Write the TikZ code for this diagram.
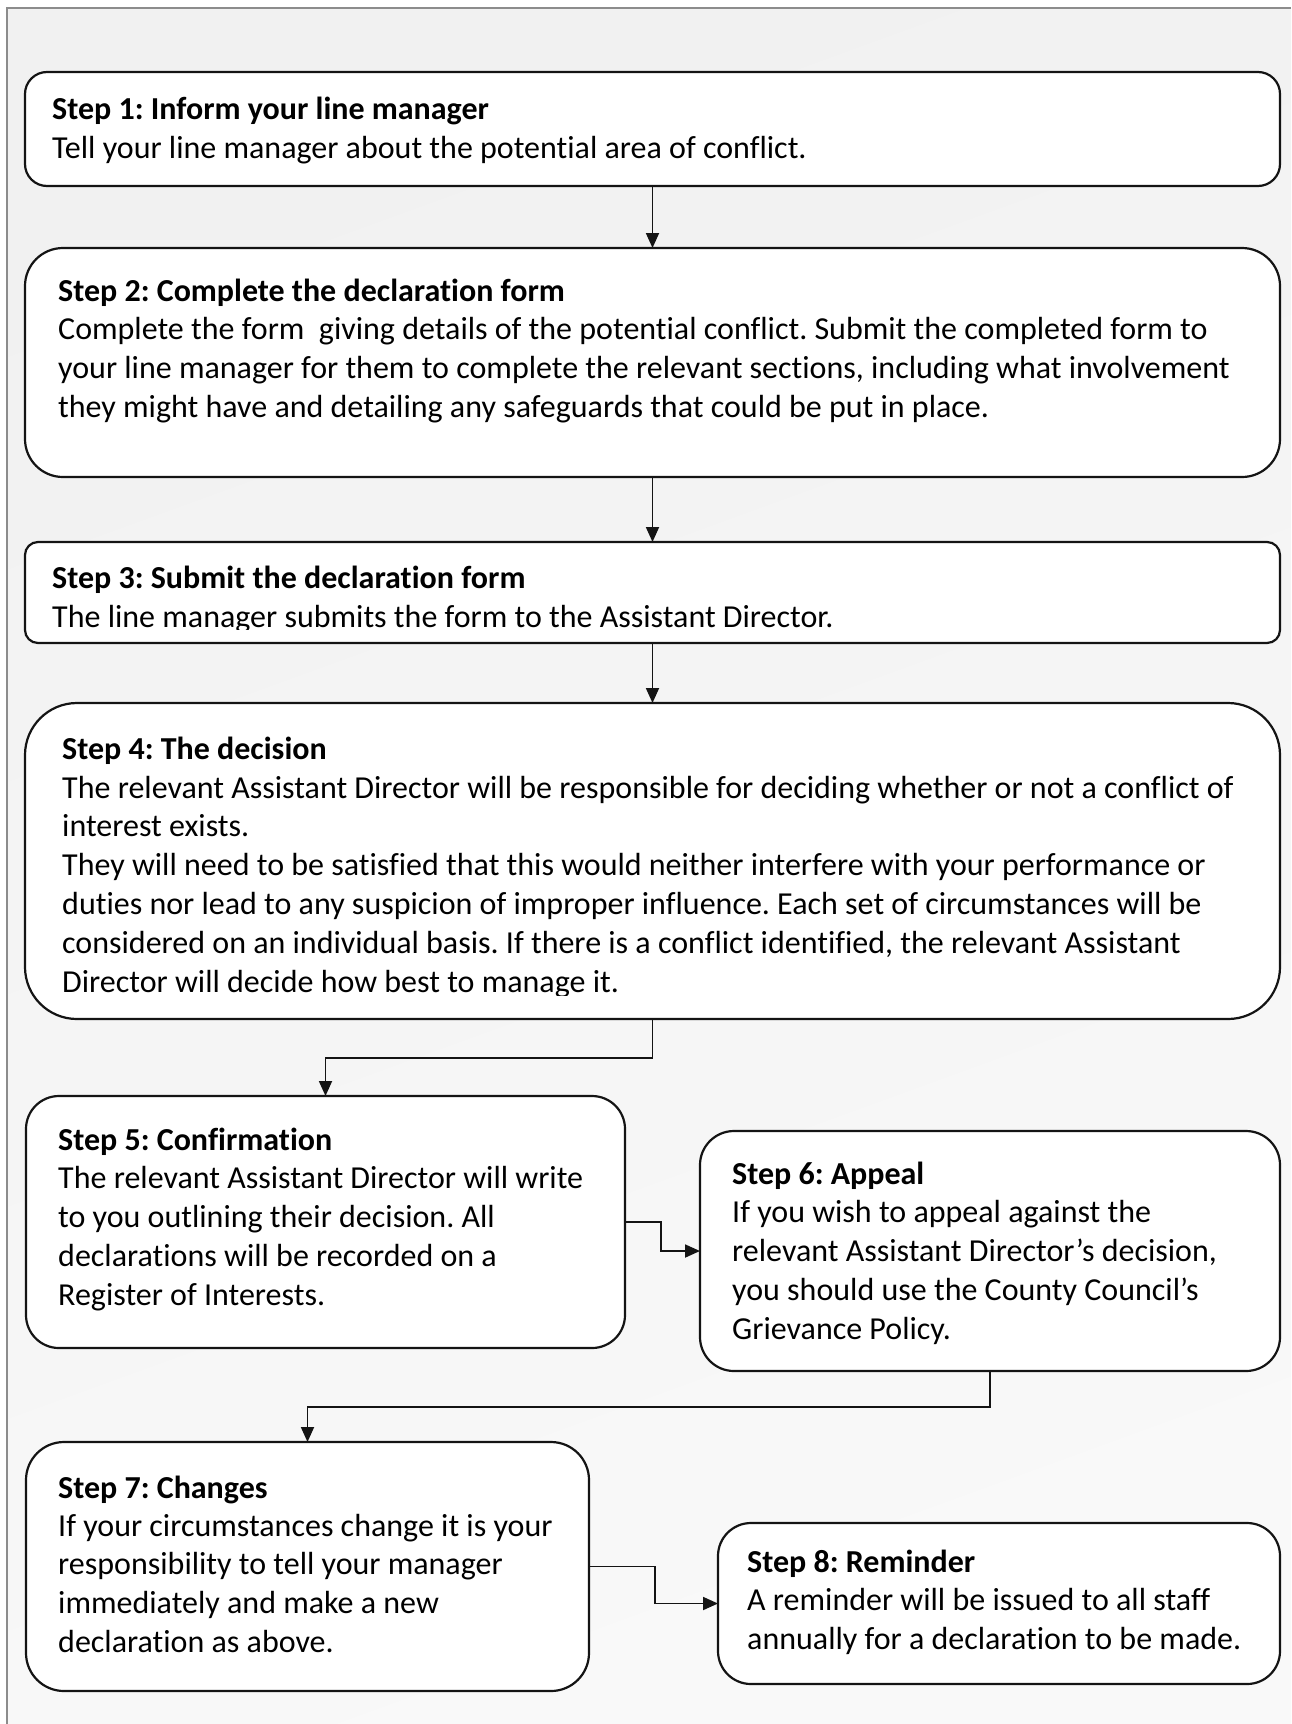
\documentclass[tikz,border=0pt]{standalone}
\usepackage{fontspec}
\setmainfont{Carlito}[Ligatures=NoCommon]
\usetikzlibrary{arrows.meta}
\definecolor{bgA}{RGB}{241,241,241}
\definecolor{bgB}{RGB}{249,249,249}
\definecolor{framec}{RGB}{140,140,140}
\definecolor{linec}{RGB}{20,20,20}
\tikzset{
  box/.style={draw=linec, line width=2.2pt, fill=white, rectangle, inner sep=0pt, outer sep=0pt},
  ttl/.style={anchor=base west, inner sep=0pt, align=left, font=\fontsize{32}{38.8}\selectfont\frenchspacing\bfseries},
  txt/.style={anchor=base west, inner sep=0pt, align=left, font=\fontsize{32}{38.8}\selectfont\frenchspacing},
  conn/.style={draw=linec, line width=1.8pt, -{Triangle[length=15pt,width=13pt]}}
}
\begin{document}
\begin{tikzpicture}[x=1pt,y=-1pt]
\useasboundingbox (0,0) rectangle (1291,1724);
\fill[white] (0,0) rectangle (1291,1724);
\shade[shading=axis, top color=bgA, bottom color=bgB, shading angle=20] (7,8) rectangle (1291,1724);
\draw[framec, line width=2pt] (7,1724) -- (7,8) -- (1291,8);

% boxes
\node[box, rounded corners=22pt, minimum width=1255pt, minimum height=114pt] (b1) at (652.5,129) {};
\node[box, rounded corners=38pt, minimum width=1255pt, minimum height=229pt] (b2) at (652.5,362.5) {};
\node[box, rounded corners=13pt, minimum width=1255pt, minimum height=101pt] (b3) at (652.5,592.5) {};
\node[box, rounded corners=52pt, minimum width=1255pt, minimum height=316pt] (b4) at (652.5,861) {};
\node[box, rounded corners=33pt, minimum width=599pt, minimum height=252pt] (b5) at (325.5,1222) {};
\node[box, rounded corners=34pt, minimum width=580pt, minimum height=240pt] (b6) at (990,1251) {};
\node[box, rounded corners=38pt, minimum width=563pt, minimum height=249pt] (b7) at (307.5,1566.5) {};
\node[box, rounded corners=33pt, minimum width=562pt, minimum height=161pt] (b8) at (999,1603.5) {};

% texts (multi-line bodies are placed by the baseline of their last line)
\node[ttl] (t1) at (52,119) {Step 1: Inform your line manager};
\node[txt] (d1) at (52,158.5) {Tell your line manager about the potential area of conflict.};

\node[ttl] (t2) at (58,301) {Step 2: Complete the declaration form};
\node[txt] (d2) at (58,417) {Complete the form\ \ giving details of the potential conflict. Submit the completed form to\\your line manager for them to complete the relevant sections, including what involvement\\they might have and detailing any safeguards that could be put in place.};

\node[ttl] (t3) at (52,588) {Step 3: Submit the declaration form};
\begin{scope}
\clip (25,560) rectangle (1280,629);
\node[txt] (d3) at (52,627) {The line manager submits the form to the Assistant Director.};
\end{scope}

\node[ttl] (t4) at (62,759) {Step 4: The decision};
\begin{scope}
\clip (25,770) rectangle (1280,995);
\node[txt] (d4) at (62,992) {The relevant Assistant Director will be responsible for deciding whether or not a conflict of\\interest exists.\\They will need to be satisfied that this would neither interfere with your performance or\\duties nor lead to any suspicion of improper influence. Each set of circumstances will be\\considered on an individual basis. If there is a conflict identified, the relevant Assistant\\Director will decide how best to manage it.};
\end{scope}

\node[ttl] (t5) at (58,1150) {Step 5: Confirmation};
\node[txt] (d5) at (58,1305) {The relevant Assistant Director will write\\to you outlining their decision. All\\declarations will be recorded on a\\Register of Interests.};

\node[ttl] (t6) at (732,1184) {Step 6: Appeal};
\node[txt] (d6) at (732,1339) {If you wish to appeal against the\\relevant Assistant Director’s decision,\\you should use the County Council’s\\Grievance Policy.};

\node[ttl] (t7) at (58,1498) {Step 7: Changes};
\node[txt] (d7) at (58,1652.5) {If your circumstances change it is your\\responsibility to tell your manager\\immediately and make a new\\declaration as above.};

\node[ttl] (t8) at (747,1572) {Step 8: Reminder};
\node[txt] (d8) at (747,1649) {A reminder will be issued to all staff\\annually for a declaration to be made.};

% connectors
\draw[conn] (b1.south) -- (b2.north);
\draw[conn] (b2.south) -- (b3.north);
\draw[conn] (b3.south) -- (b4.north);
\draw[conn] (b4.south) -- ++(0,39) -| (b5.north);
\draw[conn] (b5.east) -- ++(36,0) |- (b6.west);
\draw[conn] (b6.south) -- ++(0,36) -| (b7.north);
\draw[conn] (b7.east) -- ++(66,0) |- (b8.west);
\end{tikzpicture}
\end{document}
